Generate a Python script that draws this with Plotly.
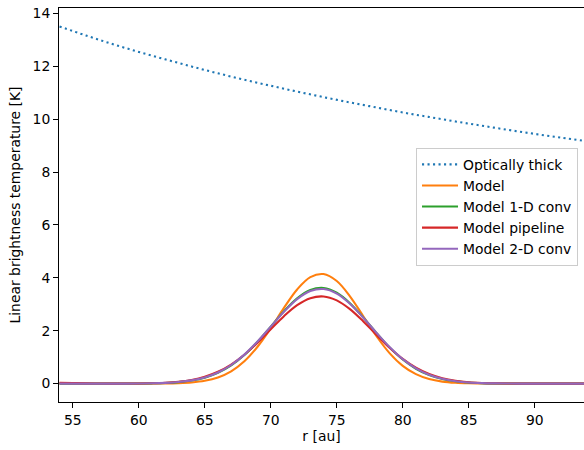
import plotly.graph_objects as go

# Optically thick curve
r_thick = [54, 56, 58, 60, 62, 64, 66, 68, 70, 72, 74, 76, 78, 80, 82, 84, 86, 88, 90, 92, 94]
t_thick = [13.50, 13.16, 12.84, 12.54, 12.26, 11.99, 11.73, 11.49, 11.26, 11.04, 10.83,
           10.63, 10.44, 10.25, 10.08, 9.91, 9.75, 9.59, 9.44, 9.30, 9.16]

# Model curves, r = 54..94 au
r_model = list(range(54, 95))
t_model = [0, 0, 0, 0, 0, 0, 0.000, 0.002, 0.006, 0.017, 0.044, 0.106, 0.233, 0.465, 0.845,
           1.394, 2.095, 2.864, 3.560, 4.026, 4.142, 3.877, 3.300, 2.556, 1.801, 1.154,
           0.672, 0.357, 0.172, 0.075, 0.030, 0.011, 0.004, 0.001, 0, 0, 0, 0, 0, 0, 0]
t_conv1d = [0, 0, 0, 0, 0, 0, 0.004, 0.010, 0.024, 0.055, 0.115, 0.224, 0.407, 0.687, 1.081,
            1.582, 2.155, 2.731, 3.222, 3.538, 3.615, 3.438, 3.042, 2.505, 1.920, 1.370,
            0.910, 0.562, 0.323, 0.173, 0.086, 0.040, 0.017, 0.007, 0.003, 0.001, 0, 0, 0, 0, 0]
t_pipeline = [0.03, 0.02, 0.01, 0.005, 0.001, 0.002, 0.006, 0.015, 0.034, 0.071, 0.140, 0.259,
              0.447, 0.722, 1.092, 1.547, 2.053, 2.550, 2.967, 3.231, 3.296, 3.148, 2.815,
              2.357, 1.848, 1.357, 0.933, 0.600, 0.362, 0.204, 0.108, 0.053, 0.025, 0.011,
              0.004, 0.001, 0, 0, 0, 0, 0]
t_conv2d = [0, 0, 0, 0, 0, 0, 0.004, 0.011, 0.027, 0.059, 0.122, 0.235, 0.421, 0.704, 1.097,
            1.592, 2.154, 2.717, 3.194, 3.500, 3.575, 3.403, 3.020, 2.497, 1.925, 1.383,
            0.926, 0.578, 0.336, 0.182, 0.092, 0.043, 0.019, 0.008, 0.003, 0.001, 0, 0, 0, 0, 0]

x_ticks = [55, 60, 65, 70, 75, 80, 85, 90]
y_ticks = [0, 2, 4, 6, 8, 10, 12, 14]

FONT = "DejaVu Sans"
FS = 13.9
fig = go.Figure()
fig.add_trace(go.Scatter(x=r_thick, y=t_thick, mode="lines", name="Optically thick",
                         line=dict(color="#1f77b4", width=2.08, dash="2.1px,3.4px",
                                   shape="spline")))
for name, ys, col in [("Model", t_model, "#ff7f0e"),
                      ("Model 1-D conv", t_conv1d, "#2ca02c"),
                      ("Model pipeline", t_pipeline, "#d62728"),
                      ("Model 2-D conv", t_conv2d, "#9467bd")]:
    fig.add_trace(go.Scatter(x=r_model, y=ys, mode="lines", name=name,
                             line=dict(color=col, width=2.08, shape="spline")))

fig.update_layout(
    width=584, height=450,
    margin=dict(l=59, r=0, t=8, b=48),
    plot_bgcolor="white", paper_bgcolor="white",
    font=dict(family=FONT, size=FS, color="black"),
    showlegend=True,
    legend=dict(x=0.9886, y=0.645, xanchor="right", yanchor="top",
                bgcolor="rgba(255,255,255,0.8)", bordercolor="#cccccc", borderwidth=1,
                font=dict(family=FONT, size=FS), tracegroupgap=0, itemwidth=36),
)
fig.update_xaxes(range=[53.96, 93.73], tickvals=x_ticks, ticks="outside", ticklen=4.9,
                 tickwidth=1.1, tickcolor="black", showline=True, linecolor="black",
                 linewidth=1.1, mirror=True, showgrid=False, zeroline=False,
                 tickfont=dict(size=FS),
                 title=dict(text="r [au]", standoff=4, font=dict(size=FS)))
fig.update_yaxes(range=[-0.695, 14.2], tickvals=y_ticks, ticks="outside", ticklen=4.9,
                 tickwidth=1.1, tickcolor="black", showline=True, linecolor="black",
                 linewidth=1.1, mirror=False, showgrid=False, zeroline=False,
                 tickfont=dict(size=FS),
                 title=dict(text="Linear brightness temperature [K]", standoff=8,
                            font=dict(size=FS)))

fig.write_html("out.html", config={"displayModeBar": False},
               post_script="document.body.style.margin='0';document.body.style.overflow='hidden';")
